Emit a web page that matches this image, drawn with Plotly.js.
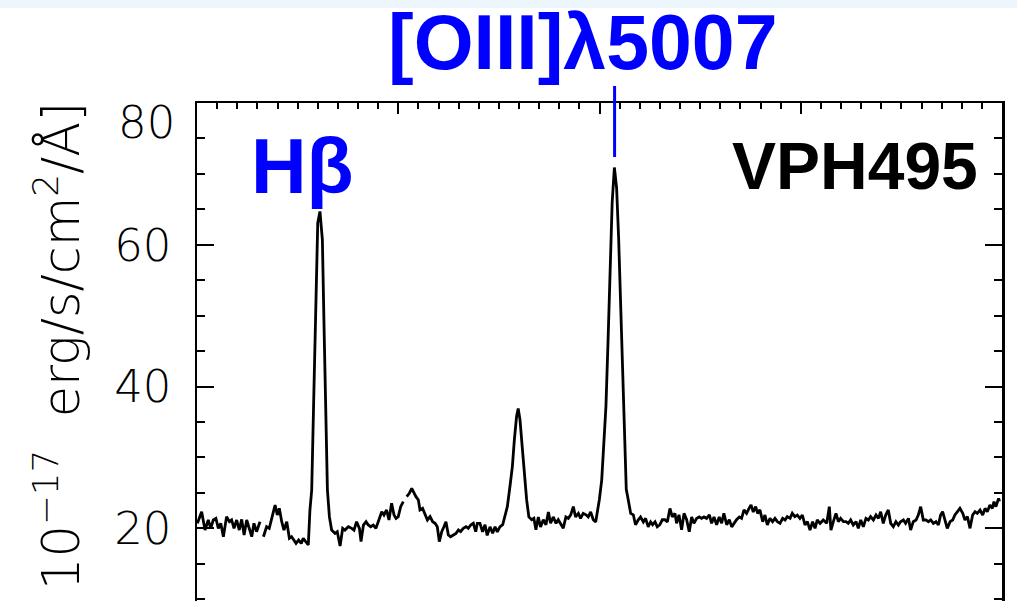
<!DOCTYPE html>
<html>
<head>
<meta charset="utf-8">
<script src="https://cdn.plot.ly/plotly-3.0.1.min.js"></script>
<style>html,body{margin:0;padding:0;background:#fff;}#chart{width:1017px;height:601px;}</style>
</head>
<body>
<div id="chart"></div>
<script>
// Rest-frame wavelength (Angstrom); null flux marks a gap in the spectrum
const wavelength = [
4800.2,4802.3,4804.0,4805.6,4806.8,4808.1,4809.4,4810.6,4811.8,4813.1,4814.7,4816.1,4817.2,4818.4,4819.7,4821.0,4822.2,4823.4,4824.7,4826.0,4827.2,4828.3,4829.6,4831.3,4832.1,
4833.0,4834.6,4835.9,4837.1,4838.8,4839.9,4840.9,4842.1,4843.2,4844.6,4845.9,4847.0,4848.2,4849.2,4850.5,4851.8,4852.8,4854.2,4855.3,4856.1,
4857.0,4858.1,4859.1,4860.0,4861.1,4862.3,4863.1,4863.9,4864.8,4865.8,4866.9,
4868.6,4869.7,4871.1,4872.4,4873.5,4875.2,4876.9,4878.0,4879.3,4880.7,4881.5,4882.7,4884.0,4885.1,4886.3,4887.6,4888.9,4890.1,4891.8,4892.9,4894.2,4895.4,4896.7,4897.9,4898.9,4900.0,4901.2,4902.5,4903.3,
4904.2,4905.5,4906.7,4907.8,4908.8,4910.0,4910.8,4912.1,4913.3,4914.5,4915.8,4917.1,4918.3,4919.4,4920.4,4921.6,4922.7,4923.7,4924.9,4926.0,4927.4,4928.7,4929.9,4931.0,4932.3,4933.7,4934.8,4936.0,4937.3,4938.5,4939.3,4940.6,
4941.9,4943.1,4944.2,4945.6,4946.9,4948.1,4949.2,4950.5,4951.9,4953.0,4954.2,4955.5,4956.7,4957.7,4958.8,4959.6,4960.5,4961.6,4962.6,4963.8,4964.9,4966.3,4967.4,4968.4,4969.6,4970.7,4972.1,4973.4,4974.6,4975.7,4977.0,4978.4,4979.5,4980.7,4982.0,4983.3,4984.5,4985.7,4987.0,4988.1,4989.5,4990.6,4991.9,4993.3,4994.4,4995.6,4996.9,4998.1,4998.9,
4999.9,5001.1,5002.2,5003.2,5004.2,5005.2,5006.3,5007.4,5008.5,5009.5,5010.5,5011.5,5012.4,5013.3,5014.3,5015.5,5016.8,
5017.9,5019.3,5020.4,5021.8,5022.9,5024.2,5025.4,5026.4,5027.6,5028.7,5030.0,5031.2,5032.5,5033.7,5035.0,5036.2,5037.5,5038.3,5039.5,5040.8,5042.0,5043.3,5044.6,5045.8,5046.9,5048.3,5049.6,5050.7,5051.9,5053.2,5054.6,5055.7,5056.9,5058.2,5059.5,5060.7,5061.8,5063.2,5064.5,5065.7,5066.8,5068.1,5069.5,5070.6,5071.8,5073.1,5074.3,5075.3,5076.4,5077.6,5078.6,5079.7,
5081.1,5082.2,5083.4,5084.7,5086.0,5087.2,5088.4,5089.7,5091.0,5092.2,5093.3,5094.7,5095.8,5097.1,5098.3,5099.6,5100.8,5102.1,5103.3,5104.6,5105.9,5107.1,5108.2,5109.6,5111.2,5112.9,5114.2,5115.0,5116.2,5117.5,5118.7,5119.8,5121.2,
5122.5,5123.6,5124.8,5126.1,5127.5,5128.6,5129.8,5131.1,5132.4,5133.6,5134.7,5136.1,5137.4,5138.6,5139.7,5141.0,5142.2,5143.5,5144.7,5146.0,5147.3,5148.5,5149.6,5151.0,5152.1,5153.5,5154.6,5155.9,5157.3,5158.4,5159.6,5160.9,5162.2,5163.4,5164.6,5165.9,5167.2,5168.4,5169.5,5170.5,5171.7,5172.8,5174.2,5175.5,5176.6,5177.8,5179.1,5180.5,5181.6,5182.8,5184.1,5185.4,5186.6,5187.7,5189.1,5190.4,5191.6,5192.7,5194.0,5195.2,5196.0,5197.0,5197.7,5198.3,5198.8
];
// Flux in 1e-17 erg/s/cm^2/A
const flux = [
20.70,22.34,19.75,21.17,19.99,21.17,21.40,19.99,20.70,18.81,21.64,20.93,21.17,19.99,21.17,19.75,21.26,19.05,21.17,19.99,18.81,20.70,19.52,20.93,null,
18.81,20.22,19.99,21.40,23.28,21.87,22.81,20.93,19.75,20.93,18.58,18.81,18.34,17.87,18.34,17.87,18.58,18.11,17.64,22.5,
25.4,39.5,53.6,63.1,64.7,60.7,48.9,34.8,25.4,21.6,19.75,
19.28,19.52,17.5,19.99,19.75,20.22,19.99,19.75,20.93,19.99,18.11,20.46,20.93,20.46,20.22,20.46,19.99,20.93,22.34,21.87,22.58,21.17,23.52,21.87,21.40,21.64,23.05,23.75,null,
24.46,24.93,25.64,24.93,24.46,23.99,22.58,22.81,21.87,21.17,21.64,20.93,20.70,20.22,18.11,19.52,20.22,20.93,19.05,18.81,19.05,19.28,19.75,19.52,19.99,20.22,19.99,20.46,20.70,19.52,20.70,20.7,
19.5,20.5,19.0,20.2,19.3,20.2,19.5,20.2,20.5,21.6,23.05,25.9,28.7,32.5,35.8,36.9,35.3,31.5,27.7,24.0,21.6,21.2,21.4,19.8,21.6,20.2,21.2,20.5,22.3,20.7,21.6,20.7,21.2,20.7,20.0,21.6,21.4,21.9,23.05,21.6,22.1,21.4,22.1,21.9,21.6,22.3,21.2,20.9,22.1,
24.0,26.8,31.5,37.2,46.0,56.7,66.0,70.9,68.0,61.0,52.0,42.0,32.0,25.5,24.0,22.1,21.9,
20.5,21.2,21.6,20.9,21.4,20.2,20.9,20.5,20.9,20.2,20.5,21.2,21.2,20.9,22.8,21.6,22.1,20.7,21.9,19.8,22.1,21.2,19.5,21.6,20.7,21.4,21.6,21.4,21.6,21.4,21.9,20.7,21.6,20.5,21.6,20.7,22.1,20.5,21.2,20.2,20.7,21.2,21.6,21.4,22.6,22.1,22.8,23.3,22.3,23.05,22.1,22.6,
20.93,21.87,20.46,21.40,20.93,21.40,20.93,20.70,21.40,21.17,21.64,21.40,22.11,21.64,21.87,21.40,21.87,20.46,20.93,19.75,20.93,19.99,21.17,20.70,21.17,20.70,23.05,19.75,20.93,22.11,20.93,21.40,20.93,
20.93,20.70,21.17,20.46,20.93,19.99,21.17,20.22,21.40,21.17,21.64,21.17,21.87,21.40,22.34,20.70,21.87,22.58,20.70,20.22,20.93,20.46,20.93,21.17,20.70,21.40,19.75,20.93,21.17,21.87,23.05,21.17,21.17,20.93,21.17,20.70,20.93,20.46,21.87,22.34,20.93,19.99,20.93,21.17,21.87,22.34,22.81,22.11,21.17,21.64,19.99,21.87,22.34,22.11,22.58,21.87,22.81,22.34,23.28,22.81,23.75,23.05,23.75,24.22,23.8
];
const yTickValues = [20, 40, 60, 80];
const yTickText = ['20', '40', '60', ''];
const lineLabels = ['H\u03b2', '[OIII]\u03bb5007', 'VPH495'];
const oiiiWavelength = 5007.5;

const trace = {
  x: wavelength, y: flux, type: 'scatter', mode: 'lines',
  line: {color: '#000', width: 2.8}, connectgaps: false, hoverinfo: 'skip'
};

const H = 601, T = 103, PH = H - T;
const PL = 197, PW = 805;
const py = p => (H - p) / PH;      // pixel y -> paper y
const px = p => (p - PL) / PW;     // pixel x -> paper x

const layout = {
  width: 1017, height: 601,
  margin: {l: PL, r: 15, t: T, b: 0, pad: 0},
  paper_bgcolor: '#fff', plot_bgcolor: '#fff',
  showlegend: false,
  xaxis: {
    range: [4800, 5200], side: 'top', showline: true, linecolor: '#000', linewidth: 2.5,
    ticks: 'inside', ticklen: 11, tickwidth: 2, tickcolor: '#000', tick0: 4800, dtick: 100,
    showticklabels: false, showgrid: false, zeroline: false,
    minor: {ticks: 'inside', dtick: 10, tick0: 4800, ticklen: 6, tickwidth: 2, tickcolor: '#000', showgrid: false}
  },
  yaxis: {
    range: [9.74, 80], showline: true, mirror: 'ticks', linecolor: '#000', linewidth: 2.5,
    ticks: 'inside', ticklen: 17, tickwidth: 2, tickcolor: '#000',
    tickmode: 'array', tickvals: yTickValues, ticktext: yTickText,
    tickfont: {family: 'DejaVu Sans', size: 45, color: '#000', weight: 300},
    ticklabelstandoff: 14,
    showgrid: false, zeroline: false,
    minor: {ticks: 'inside', dtick: 5, tick0: 0, ticklen: 8, tickwidth: 2, tickcolor: '#000', showgrid: false}
  },
  shapes: [
    {type: 'rect', xref: 'paper', yref: 'paper', x0: -0.3, x1: 1.1, y0: py(8), y1: py(-2),
     fillcolor: '#eef6fd', line: {width: 0}, layer: 'below'},
    {type: 'line', xref: 'x', yref: 'paper', x0: oiiiWavelength, x1: oiiiWavelength, y0: py(157), y1: py(86),
     line: {color: 'rgb(0,0,255)', width: 3}}
  ],
  annotations: [
    {text: lineLabels[0], xref: 'paper', yref: 'paper', x: px(302.5), y: py(165.5), xanchor: 'center', yanchor: 'middle',
     showarrow: false, font: {family: 'Liberation Sans', size: 77, weight: 700, color: 'rgb(0,0,255)'}},
    {text: lineLabels[1], xref: 'paper', yref: 'paper', x: px(582.5), y: py(41.5), xanchor: 'center', yanchor: 'middle',
     showarrow: false, font: {family: 'Liberation Sans', size: 77, weight: 700, color: 'rgb(0,0,255)'}},
    {text: lineLabels[2], xref: 'paper', yref: 'paper', x: px(855), y: py(165.7), xanchor: 'center', yanchor: 'middle',
     showarrow: false, font: {family: 'Liberation Sans', size: 66, weight: 700, color: '#000'}},
    {text: '80', xref: 'paper', yref: 'y', x: px(177), y: 80, yshift: -19, xanchor: 'right', yanchor: 'middle',
     showarrow: false, font: {family: 'DejaVu Sans', size: 45, color: '#000', weight: 300}},
    {text: '10<sup>\u221217</sup>  erg/s/cm<sup>2</sup>/\u00c5]', xref: 'paper', yref: 'paper', x: px(58), y: py(346),
     xanchor: 'center', yanchor: 'middle', textangle: -90, showarrow: false,
     font: {family: 'DejaVu Sans', size: 51, color: '#000', weight: 300}}
  ]
};

Plotly.newPlot('chart', [trace], layout, {displayModeBar: false, staticPlot: true});
</script>
</body>
</html>
